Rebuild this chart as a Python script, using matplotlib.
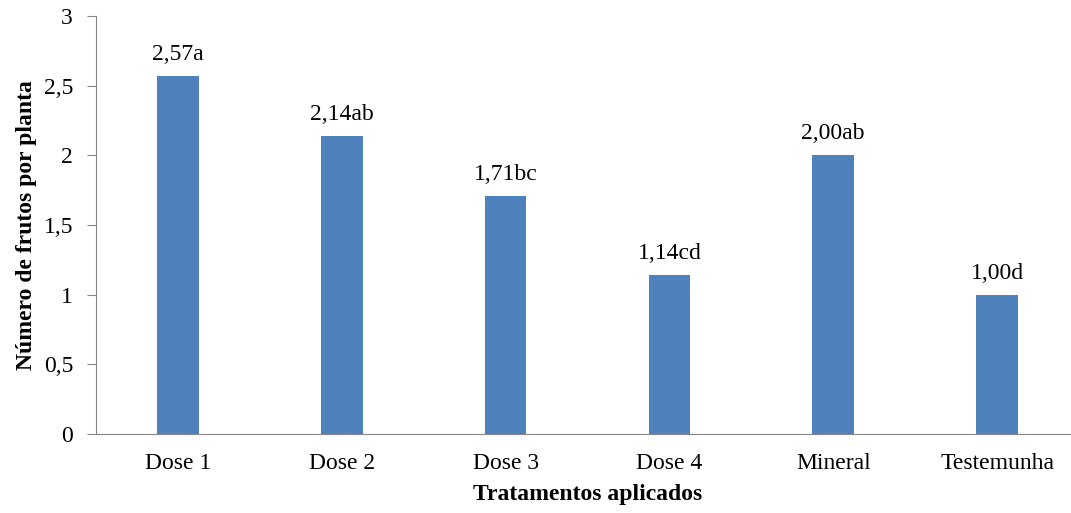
import numpy as np
import matplotlib.pyplot as plt

tratamentos = ['Dose 1', 'Dose 2', 'Dose 3', 'Dose 4', 'Mineral', 'Testemunha']
frutos = [2.57, 2.14, 1.71, 1.14, 2.00, 1.00]
letras = ['a', 'ab', 'bc', 'cd', 'ab', 'd']

plt.rcParams['font.family'] = ['Liberation Serif', 'DejaVu Serif']

fig = plt.figure(figsize=(10.71, 5.13), dpi=100)
ax = fig.add_axes([96 / 1071, 79 / 513, 983 / 1071, 418 / 513])

x = np.arange(len(tratamentos))
ax.bar(x, frutos, width=0.254, color='#4F81BD')

# rótulos com média e letra do teste de comparação
for xi, v, l in zip(x, frutos, letras):
    ax.annotate(('%.2f' % v).replace('.', ',') + l, (xi, v),
                xytext=(0, 8), textcoords='offset points',
                ha='center', va='bottom', fontsize=17)

ax.set_xlim(-0.5, len(tratamentos) - 0.5)
ax.set_ylim(0, 3)
ax.set_xticks(x)
ax.set_xticklabels(tratamentos, fontsize=17)
ax.set_yticks([0, 0.5, 1, 1.5, 2, 2.5, 3])
ax.set_yticklabels(['0', '0,5', '1', '1,5', '2', '2,5', '3'], fontsize=17)
ax.tick_params(axis='x', length=0, pad=14)
ax.tick_params(axis='y', length=6.5, color='#868686', pad=10)

for s in ['top', 'right']:
    ax.spines[s].set_visible(False)
for s in ['left', 'bottom']:
    ax.spines[s].set_color('#868686')

ax.set_xlabel('Tratamentos aplicados', fontsize=17, fontweight='bold', labelpad=7)
ax.set_ylabel('Número de frutos por planta', fontsize=17, fontweight='bold', labelpad=5)

fig.savefig('out.png', dpi=100)
